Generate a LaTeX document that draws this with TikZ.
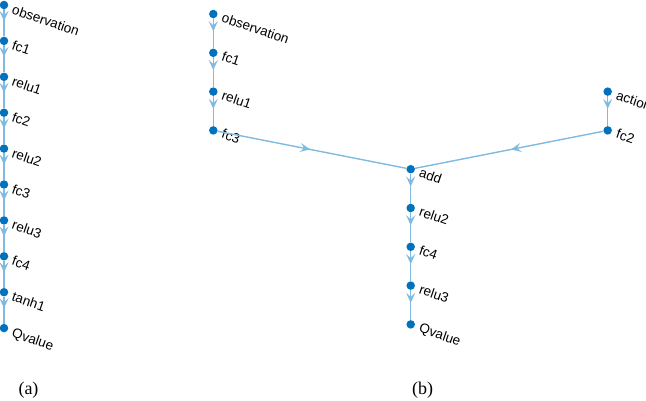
\documentclass[tikz,border=0pt]{standalone}
\usepackage{fontspec}
\setmainfont{Liberation Serif}
\setsansfont{Liberation Sans}
\usepackage{tikz}
\usetikzlibrary{positioning, arrows.meta, calc, decorations.markings}
\definecolor{dotblue}{RGB}{0, 114, 189}
\definecolor{edgeblue}{RGB}{128, 186, 224}

\begin{document}
\begin{tikzpicture}[
        x=1pt, y=-1pt,
        % Layer node: small filled dot
        dot/.style={
            circle, 
            fill=dotblue, 
            inner sep=0pt, 
            minimum size=8.5pt
        },
        % Rotated layer name next to each dot
        lbl/.style={
            anchor=base west, 
            rotate=-19, 
            inner sep=0pt, 
            font=\sffamily\fontsize{13.5}{15}\selectfont
        },
        % Edge with its arrowhead part way along
        flow/.style={
            draw=edgeblue, 
            line width=1.4pt,
            postaction={decorate},
            decoration={markings, mark=at position #1 with {\arrow[edgeblue]{Stealth[length=10pt, width=9pt, inset=4pt]}}}
        },
        flow/.default=0.43,
        caption/.style={font=\fontsize{18}{20}\selectfont}
    ]

    \useasboundingbox (0,0) rectangle (646,401);

    % 1. Left network (a): one straight chain
    \foreach \name [count=\i from 0] in {observation, fc1, relu1, fc2, relu2, fc3, relu3, fc4, tanh1, Qvalue} {
        \node[dot] (a\i) at (4, {5+35.9*\i}) {};
        \node[lbl] (a\i-t) at ($(a\i.center)+(7,8.5)$) {\name};
    }
    \foreach \i in {0,...,8} {
        \pgfmathtruncatemacro{\nexti}{\i+1}
        \path[flow] (a\i) -- (a\nexti);
    }

    % 2. Right network (b): observation branch, action branch, joined at add
    \foreach \name [count=\i from 0] in {observation, fc1, relu1, fc3} {
        \node[dot] (bo\i) at (213.3, {14+38.8*\i}) {};
        \node[lbl] (bo\i-t) at ($(bo\i.center)+(7.5,7.5)$) {\name};
    }
    \foreach \name [count=\i from 1] in {action, fc2} {
        \node[dot] (ba\i) at (607.7, {14+38.8*(\i+1)}) {};
        \node[lbl] (ba\i-t) at ($(ba\i.center)+(7.5,7.5)$) {\name};
    }
    \foreach \name [count=\i from 4] in {add, relu2, fc4, relu3, Qvalue} {
        \node[dot] (bm\i) at (410.7, {14+38.8*\i}) {};
        \node[lbl] (bm\i-t) at ($(bm\i.center)+(7.5,7.5)$) {\name};
    }

    % 3. Edges of (b)
    \path[flow] (bo0) -- (bo1);
    \path[flow] (bo1) -- (bo2);
    \path[flow] (bo2) -- (bo3);
    \path[flow=0.49] (bo3) -- (bm4);
    \path[flow] (ba1) -- (ba2);
    \path[flow=0.49] (ba2) -- (bm4);
    \foreach \i in {4,...,7} {
        \pgfmathtruncatemacro{\nexti}{\i+1}
        \path[flow] (bm\i) -- (bm\nexti);
    }

    % 4. Captions
    \node[caption] (capa) at (28.5, 390) {(a)};
    \node[caption] (capb) at (422.5, 390) {(b)};

    \end{tikzpicture}
\end{document}
